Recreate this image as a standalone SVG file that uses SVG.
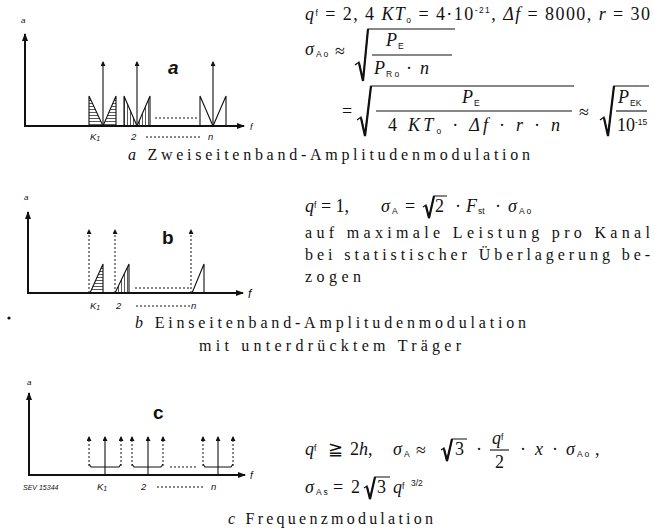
<svg xmlns="http://www.w3.org/2000/svg" width="654" height="531" viewBox="0 0 654 531">
<style>
.m{font-family:"Liberation Serif",serif;font-size:18px;fill:#111}
.b{font-family:"Liberation Serif",serif;font-size:16px;fill:#111}
.i{font-style:italic}
.s{font-family:"Liberation Sans",sans-serif;font-size:8.5px;fill:#111}
.ln{stroke:#111;stroke-width:1.1;fill:none}
.ax{stroke:#111;stroke-width:2;fill:none}
.dt{stroke:#111;stroke-width:1;stroke-dasharray:2 2;fill:none}
.lb{font-family:"Liberation Sans",sans-serif;font-style:italic;fill:#111}
.big{font-family:"Liberation Sans",sans-serif;font-weight:bold;font-size:19px;fill:#111}
.rad{stroke:#111;stroke-width:1.2;fill:none;stroke-linejoin:miter}
.rs{stroke:#111;stroke-width:2.2;fill:none}
</style>
<defs>
<marker id="ah" markerWidth="8" markerHeight="6" refX="7" refY="3" orient="auto" markerUnits="userSpaceOnUse"><path d="M0,0 L8,3 L0,6 Z" fill="#111"/></marker>
<marker id="sh" markerWidth="5" markerHeight="5" refX="4" refY="2.5" orient="auto" markerUnits="userSpaceOnUse"><path d="M0,0 L5,2.5 L0,5 Z" fill="#111"/></marker>
<pattern id="hh" width="4" height="3" patternUnits="userSpaceOnUse"><line x1="0" y1="1.5" x2="4" y2="1.5" stroke="#111" stroke-width="0.7"/></pattern>
<pattern id="vh" width="3" height="4" patternUnits="userSpaceOnUse"><line x1="1.5" y1="0" x2="1.5" y2="4" stroke="#111" stroke-width="0.7"/></pattern>
</defs>
<rect width="654" height="531" fill="#fff"/>

<!-- Diagram a -->
<g id="diagram-a">
<text class="lb" x="21" y="23" font-size="8">a</text>
<line class="ax" x1="25" y1="127" x2="25" y2="34" marker-end="url(#ah)"/>
<line class="ax" x1="24" y1="126" x2="244" y2="126" marker-end="url(#ah)"/>
<text class="lb" x="250" y="130" font-size="9">f</text>
<line class="ln" x1="103" y1="126" x2="103" y2="62" marker-end="url(#sh)"/>
<line class="ln" x1="137" y1="126" x2="137" y2="62" marker-end="url(#sh)"/>
<line class="ln" x1="213" y1="126" x2="213" y2="62" marker-end="url(#sh)"/>
<path d="M89,96 L89,126 L103,126 Z M116,96 L116,126 L103,126 Z" fill="url(#hh)"/>
<path d="M124,96 L124,126 L137,126 Z M150,96 L150,126 L137,126 Z" fill="url(#vh)"/>
<polyline class="ln" points="89,126 89,96 103,126 116,96 116,126"/>
<polyline class="ln" points="124,126 124,96 137,126 150,96 150,126"/>
<polyline class="ln" points="200,126 200,96 213,126 226,96 226,126"/>
<line class="dt" x1="155" y1="118" x2="198" y2="118"/>
<text class="big" x="168" y="74" font-style="italic">a</text>
<text class="lb" x="90" y="140" font-size="9.5">K<tspan font-size="7" dy="1">1</tspan></text>
<text class="lb" x="131" y="140" font-size="9.5">2</text>
<line class="dt" x1="146" y1="137" x2="200" y2="137" stroke-dasharray="1 4"/>
<text class="lb" x="208" y="140" font-size="9.5">n</text>
</g>

<!-- Diagram b -->
<g id="diagram-b">
<text class="lb" x="24" y="200" font-size="8">a</text>
<line class="ax" x1="28" y1="294" x2="28" y2="212" marker-end="url(#ah)"/>
<line class="ax" x1="27" y1="293" x2="243" y2="293" marker-end="url(#ah)"/>
<text class="lb" x="248" y="298" font-size="12">f</text>
<line class="dt" x1="89" y1="293" x2="89" y2="230" marker-end="url(#sh)"/>
<line class="dt" x1="115" y1="293" x2="115" y2="230" marker-end="url(#sh)"/>
<line class="dt" x1="191" y1="293" x2="191" y2="230" marker-end="url(#sh)"/>
<path d="M90,293 L103,264 L103,293 Z" fill="url(#hh)"/>
<path d="M115,293 L129,264 L129,293 Z" fill="url(#vh)"/>
<polyline class="ln" points="90,293 103,264 103,293"/>
<polyline class="ln" points="115,293 129,264 129,293"/>
<polyline class="ln" points="192,293 204,264 204,293"/>
<line class="dt" x1="135" y1="288" x2="190" y2="288"/>
<text class="big" x="162" y="244">b</text>
<text class="lb" x="90" y="309" font-size="9.5">K<tspan font-size="7" dy="1">1</tspan></text>
<text class="lb" x="116" y="309" font-size="9.5">2</text>
<line class="dt" x1="136" y1="306" x2="190" y2="306" stroke-dasharray="1 4"/>
<text class="lb" x="191" y="309" font-size="9.5">n</text>
</g>

<!-- Diagram c -->
<g id="diagram-c">
<text class="lb" x="27" y="385" font-size="8">a</text>
<line class="ax" x1="29" y1="476" x2="29" y2="393" marker-end="url(#ah)"/>
<line class="ax" x1="28" y1="475" x2="245" y2="475" marker-end="url(#ah)"/>
<text class="lb" x="250" y="479" font-size="10">f</text>
<line class="ln" x1="105" y1="475" x2="105" y2="437" marker-end="url(#sh)"/>
<line class="ln" x1="148" y1="475" x2="148" y2="437" marker-end="url(#sh)"/>
<line class="ln" x1="218" y1="475" x2="218" y2="437" marker-end="url(#sh)"/>
<line class="dt" x1="89" y1="466" x2="89" y2="437" marker-end="url(#sh)"/>
<line class="dt" x1="121" y1="466" x2="121" y2="437" marker-end="url(#sh)"/>
<line class="dt" x1="132" y1="466" x2="132" y2="437" marker-end="url(#sh)"/>
<line class="dt" x1="163" y1="466" x2="163" y2="437" marker-end="url(#sh)"/>
<line class="dt" x1="203" y1="466" x2="203" y2="437" marker-end="url(#sh)"/>
<line class="dt" x1="233" y1="466" x2="233" y2="437" marker-end="url(#sh)"/>
<path class="ln" stroke-width="1.4" d="M89,464 L91,467 L119,467 L121,464 M132,464 L134,467 L161,467 L163,464 M203,464 L205,467 L231,467 L233,464"/>
<line class="dt" x1="170" y1="467" x2="198" y2="467"/>
<text class="big" x="153" y="419">c</text>
<text class="lb" x="23" y="490" font-size="7">SEV 15344</text>
<text class="lb" x="97" y="490" font-size="9.5">K<tspan font-size="7" dy="1">1</tspan></text>
<text class="lb" x="141" y="490" font-size="9.5">2</text>
<line class="dt" x1="157" y1="487" x2="205" y2="487" stroke-dasharray="1 4"/>
<text class="lb" x="211" y="490" font-size="9.5">n</text>
</g>

<!-- Formulas a -->
<g id="text-a">
<text class="m" x="305" y="20" textLength="345" lengthAdjust="spacing"><tspan class="i">q</tspan><tspan class="s" dy="-4">f</tspan><tspan dy="4"> = 2, 4 </tspan><tspan class="i">KT</tspan><tspan class="s" dy="3">o</tspan><tspan dy="-3"> = 4·10</tspan><tspan class="s" dy="-7">-21</tspan><tspan dy="7">, </tspan><tspan class="i">Δf</tspan><tspan> = 8000, </tspan><tspan class="i">r</tspan><tspan> = 30</tspan></text>
<text class="m i" x="305" y="55">σ</text><text class="s" x="316" y="57">A o</text>
<text class="m" x="335" y="57" font-size="22">≈</text>
<path class="rad" d="M355,65 L359,62 L363,81 L368,29 L455,29"/>
<path class="rs" d="M359,63 L363,81 L368,29"/>
<text class="m i" x="386" y="46">P</text><text class="s" x="398" y="49">E</text>
<line class="ln" x1="372" y1="55" x2="452" y2="55"/>
<text class="m i" x="374" y="74">P</text><text class="s" x="386" y="77">R o</text><text class="m" x="406" y="74">·</text><text class="m i" x="420" y="74">n</text>

<text class="m" x="342" y="117">=</text>
<path class="rad" d="M357,120 L361,117 L365,136 L371,86 L574,86"/>
<path class="rs" d="M361,118 L365,136 L371,86"/>
<text class="m i" x="462" y="103">P</text><text class="s" x="474" y="106">E</text>
<line class="ln" x1="376" y1="111" x2="572" y2="111"/>
<text class="m" x="388" y="131" textLength="172" lengthAdjust="spacing">4 <tspan class="i">KT</tspan><tspan class="s" dy="3">o</tspan><tspan dy="-3"> · </tspan><tspan class="i">Δf</tspan> · <tspan class="i">r</tspan> · <tspan class="i">n</tspan></text>
<text class="m" x="579" y="118" font-size="22">≈</text>
<path class="rad" d="M600,120 L604,117 L608,136 L614,86 L649,86"/>
<path class="rs" d="M604,118 L608,136 L614,86"/>
<text class="m i" x="618" y="103">P</text><text class="s" x="630" y="106">EK</text>
<line class="ln" x1="616" y1="111" x2="647" y2="111"/>
<text class="m" x="617" y="131" font-size="14">10<tspan class="s" font-size="8" dy="-6">-15</tspan></text>
<text class="b" x="128" y="160" textLength="402" lengthAdjust="spacing"><tspan class="i">a</tspan> Zweiseitenband-Amplitudenmodulation</text>
</g>

<!-- Text b -->
<g id="text-b">
<text class="m" x="305" y="212"><tspan class="i">q</tspan><tspan class="s" dy="-4">f</tspan><tspan dy="4"> = 1,</tspan></text>
<text class="m i" x="381" y="212">σ</text><text class="s" x="392" y="214">A</text>
<text class="m" x="405" y="212">=</text>
<path class="rad" d="M423,207 L426,205 L429,218 L434,196 L447,196"/>
<path class="rs" stroke-width="2" d="M426,206 L429,218 L434,196"/>
<text class="m" x="435" y="212">2</text>
<text class="m" x="455" y="212">·</text>
<text class="m i" x="466" y="212">F</text><text class="s" x="478" y="214">st</text>
<text class="m" x="495" y="212">·</text>
<text class="m i" x="508" y="212">σ</text><text class="s" x="519" y="214">A o</text>
<text class="b" x="305" y="238" textLength="345" lengthAdjust="spacing">auf maximale Leistung pro Kanal</text>
<text class="b" x="305" y="260" textLength="345" lengthAdjust="spacing">bei statistischer Überlagerung be-</text>
<text class="b" x="305" y="282" textLength="56" lengthAdjust="spacing">zogen</text>
<text class="b" x="135" y="328" textLength="391" lengthAdjust="spacing"><tspan class="i">b</tspan> Einseitenband-Amplitudenmodulation</text>
<text class="b" x="199" y="351" textLength="262" lengthAdjust="spacing">mit unterdrücktem Träger</text>
</g>

<!-- Text c -->
<g id="text-c">
<text class="m" x="305" y="455"><tspan class="i">q</tspan><tspan class="s" dy="-4">f</tspan></text>
<text class="m" x="328" y="455" font-family="DejaVu Serif" font-size="15">≧</text>
<text class="m" x="350" y="455">2<tspan class="i">h</tspan>,</text>
<text class="m i" x="393" y="455">σ</text><text class="s" x="404" y="457">A</text>
<text class="m" x="416" y="456" font-size="22">≈</text>
<path class="rad" d="M441,450 L444,448 L447,461 L452,439 L467,439"/>
<path class="rs" stroke-width="2" d="M444,449 L447,461 L452,439"/>
<text class="m" x="455" y="455">3</text>
<text class="m" x="476" y="455">·</text>
<text class="m i" x="492" y="444">q</text><text class="s" x="501" y="440">f</text>
<line class="ln" x1="490" y1="450" x2="509" y2="450"/>
<text class="m" x="495" y="468">2</text>
<text class="m" x="520" y="455">·</text>
<text class="m i" x="535" y="455">x</text>
<text class="m" x="552" y="455">·</text>
<text class="m i" x="566" y="455">σ</text><text class="s" x="577" y="457">A o</text>
<text class="m" x="595" y="455">,</text>
<text class="m i" x="305" y="493">σ</text><text class="s" x="316" y="495">A s</text>
<text class="m" x="333" y="493">=</text>
<text class="m" x="351" y="493">2</text>
<path class="rad" d="M364,488 L367,486 L370,499 L375,477 L390,477"/>
<path class="rs" stroke-width="2" d="M367,487 L370,499 L375,477"/>
<text class="m" x="377" y="493">3</text>
<text class="m i" x="393" y="493">q</text><text class="s" x="402" y="489">f</text>
<text class="s" x="411" y="486" font-size="10">3/2</text>
<text class="b" x="228" y="524" textLength="205" lengthAdjust="spacing"><tspan class="i">c</tspan> Frequenzmodulation</text>
</g>
<circle cx="9" cy="318" r="1.6" fill="#111"/>
</svg>
